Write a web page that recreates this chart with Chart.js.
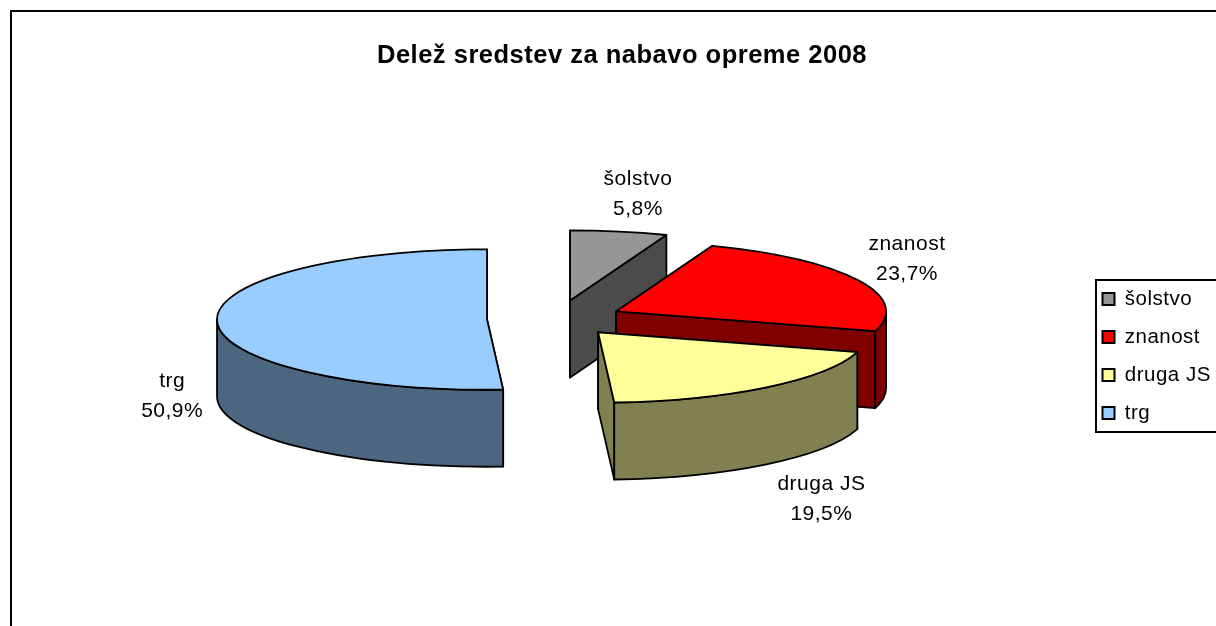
<!DOCTYPE html>
<html>
<head>
<meta charset="utf-8">
<style>
html,body{margin:0;padding:0;background:#fff;overflow:hidden}
#wrap{position:absolute;left:0;top:0;width:1216px;height:626px}
canvas{filter:blur(0.5px)}
</style>
<script src="https://cdn.jsdelivr.net/npm/chart.js@4"></script>
</head>
<body>
<div id="wrap"><canvas id="c" width="1216" height="626"></canvas></div>
<script>
const titleText = 'Delež sredstev za nabavo opreme 2008';
const categories = ['šolstvo', 'znanost', 'druga JS', 'trg'];
const shares = [5.8, 23.7, 19.5, 50.9];
const topColors = ['#969696', '#ff0000', '#ffff99', '#99ccff'];
const sideColors = ['#4b4b4b', '#800000', '#808050', '#4d6680'];

// 3D look (styling only)
const pieCentre = {x: 557, y: 319};
const tilt = 0.26;
const depth = 77;
const pieRadius = 270;
const explode = [72, 66, 66, 70];
const labelShift = [[19, -37], [49, -21], [55, 112], [-45, 75]];
const textSpacing = '0.5px';
const FONT = '"Liberation Sans", Arial, sans-serif';

const squashY = y => pieCentre.y + (y - pieCentre.y) * tilt;
const px = (a, ang) => a.x + a.outerRadius * Math.cos(ang);
const py = (a, ang) => squashY(a.y) + a.outerRadius * tilt * Math.sin(ang);
const ay = a => squashY(a.y);

function outlineTop(ctx, a) {
  ctx.beginPath();
  ctx.moveTo(a.x, ay(a));
  ctx.ellipse(a.x, ay(a), a.outerRadius, a.outerRadius * tilt, 0, a.startAngle, a.endAngle);
  ctx.closePath();
  ctx.stroke();
}
function cutFace(ctx, a, ang) {
  ctx.beginPath();
  ctx.moveTo(a.x, ay(a));
  ctx.lineTo(px(a, ang), py(a, ang));
  ctx.lineTo(px(a, ang), py(a, ang) + depth);
  ctx.lineTo(a.x, ay(a) + depth);
  ctx.closePath();
  ctx.fill();
  ctx.stroke();
}
function outerWall(ctx, a) {
  // canvas angles: the front of the disc is between 0 and PI
  let s = a.startAngle, e = a.endAngle;
  if (s < 0 && e < 0) return;
  s = Math.max(s, 0);
  e = Math.min(e, Math.PI);
  if (e <= s) return;
  ctx.beginPath();
  ctx.ellipse(a.x, ay(a), a.outerRadius, a.outerRadius * tilt, 0, s, e);
  ctx.ellipse(a.x, ay(a) + depth, a.outerRadius, a.outerRadius * tilt, 0, e, s, true);
  ctx.closePath();
  ctx.fill();
  ctx.stroke();
}

const pie3d = {
  id: 'pie3d',
  beforeLayout(chart) { chart.ctx.letterSpacing = textSpacing; },
  afterLayout(chart) {
    const l = chart.legend;
    l.left = 1085; l.right = 1216; l.top = 240; l.bottom = 472;
    l.width = l.right - l.left; l.height = l.bottom - l.top;
    l.adjustHitBoxes();
  },
  afterDatasetsUpdate(chart) {
    chart.getDatasetMeta(0).data.forEach((arc, i) => {
      const mid = (arc.startAngle + arc.endAngle) / 2;
      arc.x = pieCentre.x + Math.cos(mid) * explode[i];
      arc.y = pieCentre.y + Math.sin(mid) * explode[i];
    });
  },
  beforeDraw(chart) {
    const ctx = chart.ctx;
    ctx.letterSpacing = textSpacing;
    ctx.save();
    ctx.strokeStyle = '#000';
    ctx.lineWidth = 2;
    ctx.beginPath();
    ctx.moveTo(11, 640); ctx.lineTo(11, 11); ctx.lineTo(1220, 11);
    ctx.stroke();
    ctx.strokeRect(1096, 280, 130, 152);
    ctx.restore();
  },
  beforeDatasetsDraw(chart) {
    const ctx = chart.ctx;
    const arcs = chart.getDatasetMeta(0).data;
    ctx.save();
    ctx.lineWidth = 1.8;
    ctx.strokeStyle = '#000';
    ctx.lineJoin = 'round';
    arcs.forEach((a, i) => {
      ctx.fillStyle = sideColors[i];
      cutFace(ctx, a, a.startAngle);
      cutFace(ctx, a, a.endAngle);
      outerWall(ctx, a);
    });
    ctx.restore();
    ctx.save();
    ctx.translate(0, pieCentre.y);
    ctx.scale(1, tilt);
    ctx.translate(0, -pieCentre.y);
  },
  afterDatasetsDraw(chart) {
    const ctx = chart.ctx;
    ctx.restore();
    const arcs = chart.getDatasetMeta(0).data;
    ctx.save();
    ctx.lineWidth = 1.8;
    ctx.strokeStyle = '#000';
    ctx.lineJoin = 'round';
    arcs.forEach(a => outlineTop(ctx, a));
    ctx.fillStyle = '#000';
    ctx.font = '21px ' + FONT;
    ctx.textAlign = 'center';
    ctx.textBaseline = 'middle';
    arcs.forEach((a, i) => {
      const mid = (a.startAngle + a.endAngle) / 2;
      const x = px(a, mid) + labelShift[i][0];
      const y = py(a, mid) + labelShift[i][1];
      ctx.fillText(categories[i], x, y - 15);
      ctx.fillText(shares[i].toFixed(1).replace('.', ',') + '%', x, y + 15);
    });
    ctx.restore();
  }
};

new Chart(document.getElementById('c'), {
  type: 'pie',
  plugins: [pie3d],
  data: {
    labels: categories,
    datasets: [{
      data: shares,
      backgroundColor: topColors,
      borderWidth: 0,
      radius: pieRadius,
      clip: false
    }]
  },
  options: {
    responsive: false,
    animation: false,
    events: [],
    layout: {padding: {left: 28}},
    plugins: {
      tooltip: {enabled: false},
      title: {
        display: true,
        text: titleText,
        color: '#000',
        font: {family: FONT, size: 25.5, weight: 'bold'},
        padding: {top: 41, bottom: 10}
      },
      legend: {
        position: 'right',
        labels: {
          color: '#000',
          font: {family: FONT, size: 20.5},
          boxWidth: 12,
          boxHeight: 12,
          padding: 17.5,
          generateLabels(chart) {
            return Chart.overrides.pie.plugins.legend.labels.generateLabels(chart).map(it => {
              it.strokeStyle = '#000';
              it.lineWidth = 2;
              return it;
            });
          }
        }
      }
    }
  }
});
</script>
</body>
</html>
